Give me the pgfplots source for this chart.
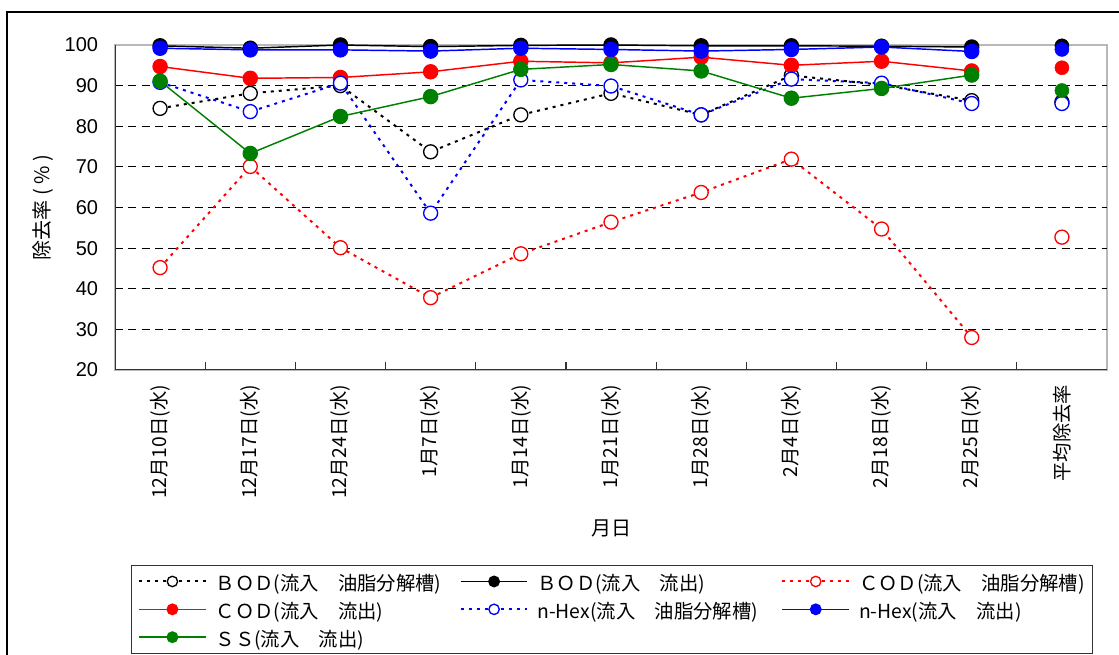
\documentclass[border=0pt]{standalone}
\usepackage{pgfplots}
\pgfplotsset{compat=1.18}
\usepackage{fontspec}
\setmainfont{Noto Sans CJK JP}
\newfontfamily\arialfont{Liberation Sans}

\pgfplotstableread{
x bodoil bodout codoil codout hexoil hexout ss
0 84.4 99.8 45.2 94.7 90.8 99.2 91.1
1 88.1 99.2 70.1 91.8 83.6 98.8 73.3
2 90.0 100.0 50.1 92.0 90.6 98.8 82.4
3 73.7 99.6 37.8 93.4 58.6 98.5 87.3
4 82.8 99.9 48.6 96.0 91.4 99.2 94.0
5 88.1 100.0 56.4 95.6 89.9 98.9 95.2
6 82.8 99.8 63.7 97.0 82.8 98.5 93.6
7 92.5 99.8 71.9 95.0 91.6 98.9 86.9
8 90.2 99.7 54.7 96.0 90.6 99.5 89.3
9 86.3 99.5 28.0 93.6 85.6 98.4 92.6
}\dates

\pgfplotstableread{
x bodoil bodout codoil codout hexoil hexout ss
10 86.0 99.8 52.7 94.4 85.6 98.9 88.8
}\avg

\definecolor{xlgreen}{RGB}{0,128,0}

\begin{document}
\begin{tikzpicture}
\useasboundingbox (0,0) rectangle (839.25pt,491.25pt);
\draw[line width=1.5pt] (5.25pt,482.25pt) rectangle (860pt,-20pt);
\begin{axis}[
  at={(86.25pt,213.75pt)}, anchor=south west,
  scale only axis, width=744pt, height=243.75pt,
  xmin=-0.5, xmax=10.5, ymin=20, ymax=100,
  xtick={0,...,10},
  xticklabels={12月10日(水),12月17日(水),12月24日(水),1月7日(水),1月14日(水),1月21日(水),1月28日(水),2月4日(水),2月18日(水),2月25日(水),平均除去率},
  minor xtick={-0.5,0.5,...,10.5},
  ytick={20,30,...,100},
  extra y ticks={30,40,...,90},
  extra y tick style={grid=major, yticklabels={}, major tick length=0pt},
  extra y tick labels={},
  grid style={black, dash pattern=on 6pt off 4pt, line width=0.6pt},
  major tick length=0pt, minor tick length=6pt, tick align=inside,
  xtick pos=left, ytick pos=left,
  minor tick style={black!80, line width=0.9pt},
  axis line style={draw=gray!55, line width=1pt},
  xticklabel style={rotate=90, anchor=east, inner sep=0pt, font=\fontsize{14.5}{17}\selectfont},
  xticklabel shift=11pt,
  yticklabel style={anchor=east, inner sep=0pt, font=\arialfont\fontsize{15}{18}\selectfont},
  yticklabel shift=12.5pt,
  /pgf/number format/assume math mode=true,
  xlabel={月日}, ylabel={除去率 ( \% )},
  xlabel style={at={(axis description cs:0.5,-0.486)}, anchor=center, font=\fontsize{15}{18}\selectfont},
  ylabel style={at={(axis description cs:-0.0726,0.5)}, anchor=center, font=\fontsize{15}{18}\selectfont},
  legend columns=3,
  legend cell align=left,
  legend style={at={(axis description cs:0.016,-0.6)}, anchor=north west,
    draw=black!80, line width=0.8pt, inner xsep=5pt, inner ysep=1.5pt,
    font=\fontsize{14.5}{17}\selectfont, row sep=0pt,
    nodes={inner sep=0pt, text height=17.3pt, text depth=3.6pt},
    /tikz/every odd column/.append style={column sep=6.75pt},
    /tikz/every even column/.append style={column sep=0pt}},
  legend image code/.code={
    \draw[mark repeat=2, mark phase=2, #1, mark size=3.9pt] plot coordinates {(0pt,0pt) (25pt,0pt) (50pt,0pt)};
  },
]
\draw[black!80, line width=1.5pt] (rel axis cs:0,1) -- (rel axis cs:0,0) -- (rel axis cs:1,0);

\pgfplotsset{
  openstyle/.style={line width=1.5pt, dash pattern=on 2.25pt off 3.75pt, mark=*, mark size=5.25pt, mark options={solid, fill=white, line width=1pt}},
  fillstyle/.style={line width=1.1pt, mark=*, mark size=5.25pt, mark options={solid}},
}

\addplot[black, openstyle] table[x=x, y=bodoil] {\dates};
\addlegendentry{\makebox[183pt][l]{ＢＯＤ(流入　油脂分解槽)}}
\addplot[black, fillstyle, mark options={fill=black}] table[x=x, y=bodout] {\dates};
\addlegendentry{\makebox[183pt][l]{ＢＯＤ(流入　流出)}}
\addplot[red, openstyle] table[x=x, y=codoil] {\dates};
\addlegendentry{\makebox[170pt][l]{ＣＯＤ(流入　油脂分解槽)}}
\addplot[red, fillstyle, mark options={fill=red}] table[x=x, y=codout] {\dates};
\addlegendentry{\makebox[183pt][l]{ＣＯＤ(流入　流出)}}
\addplot[blue, openstyle] table[x=x, y=hexoil] {\dates};
\addlegendentry{\makebox[183pt][l]{n-Hex(流入　油脂分解槽)}}
\addplot[blue, fillstyle, mark options={fill=blue}] table[x=x, y=hexout] {\dates};
\addlegendentry{\makebox[170pt][l]{n-Hex(流入　流出)}}
\addplot[xlgreen, fillstyle, mark options={fill=xlgreen}] table[x=x, y=ss] {\dates};
\addlegendentry{\makebox[183pt][l]{ＳＳ(流入　流出)}}

\addplot[black, only marks, mark=*, mark size=5.25pt, mark options={fill=white, line width=1pt}, forget plot] table[x=x, y=bodoil] {\avg};
\addplot[black, only marks, mark=*, mark size=5.25pt, mark options={fill=black}, forget plot] table[x=x, y=bodout] {\avg};
\addplot[red, only marks, mark=*, mark size=5.25pt, mark options={fill=white, line width=1pt}, forget plot] table[x=x, y=codoil] {\avg};
\addplot[red, only marks, mark=*, mark size=5.25pt, mark options={fill=red}, forget plot] table[x=x, y=codout] {\avg};
\addplot[blue, only marks, mark=*, mark size=5.25pt, mark options={fill=white, line width=1pt}, forget plot] table[x=x, y=hexoil] {\avg};
\addplot[blue, only marks, mark=*, mark size=5.25pt, mark options={fill=blue}, forget plot] table[x=x, y=hexout] {\avg};
\addplot[xlgreen, only marks, mark=*, mark size=5.25pt, mark options={fill=xlgreen}, forget plot] table[x=x, y=ss] {\avg};
\end{axis}
\end{tikzpicture}
\end{document}
